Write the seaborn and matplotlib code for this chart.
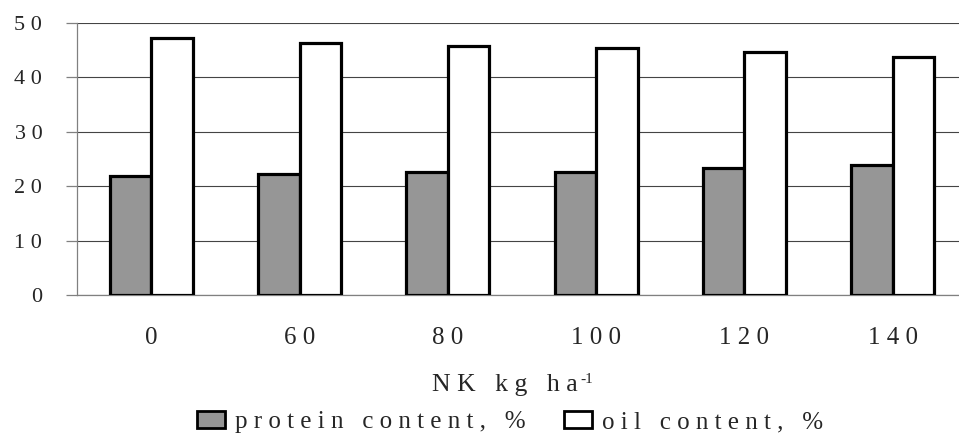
import pandas as pd
import seaborn as sns
import matplotlib.pyplot as plt
from matplotlib.patches import Patch

# --- data ---
doses = ['0', '60', '80', '100', '120', '140']
protein = [21.8, 22.3, 22.5, 22.6, 23.4, 23.9]
oil = [47.2, 46.3, 45.8, 45.3, 44.7, 43.7]
series_names = ['protein content, %', 'oil content, %']
y_ticks = [0, 10, 20, 30, 40, 50]


def spaced(s):
    # old Excel look: letters set apart by a space
    return ' '.join(s)


df = pd.DataFrame({
    'dose': doses * 2,
    'series': [series_names[0]] * len(doses) + [series_names[1]] * len(doses),
    'value': protein + oil,
})

sns.set_style('white')
plt.rcParams['font.family'] = ['Liberation Serif', 'DejaVu Serif']

fig = plt.figure(figsize=(9.59, 4.34), dpi=100)
ax = fig.add_axes([77 / 959, 139 / 434, 890 / 959, 272.3 / 434])

colors = {series_names[0]: '#969696', series_names[1]: '#ffffff'}
sns.barplot(data=df, x='dose', y='value', hue='series', order=doses,
            hue_order=series_names, palette=colors, width=0.56,
            edgecolor='black', linewidth=2.3, saturation=1,
            legend=False, ax=ax, zorder=3)

ax.set_xlim(-0.5, 5.5)
ax.set_ylim(0, 50)
ax.set_yticks(y_ticks)
ax.set_yticklabels([spaced(str(t)) for t in y_ticks], fontsize=16)
ax.set_xticks(range(len(doses)))
ax.set_xticklabels([spaced(d) for d in doses], fontsize=18)

ax.grid(axis='y', color='#444444', linewidth=0.8, zorder=0)
ax.grid(axis='x', visible=False)
for side in ['top', 'right']:
    ax.spines[side].set_visible(False)
for side in ['left', 'bottom']:
    ax.spines[side].set_color('#808080')
    ax.spines[side].set_linewidth(0.9)
ax.tick_params(axis='y', left=True, length=8, width=0.9, color='#808080', pad=17)
ax.tick_params(axis='x', length=0, pad=23)

# x label, with the -1 exponent as a small raised text after it
ax.set_ylabel('')
ax.set_xlabel(spaced('NK') + '   ' + spaced('kg') + '   ' + spaced('ha'), fontsize=18.5)
ax.xaxis.set_label_coords((505 - 77) / 890, -(385 - 295) / 272.3)
ax.xaxis.label.set_va('center')
ax.annotate('-1', xy=(1, 1), xycoords=ax.xaxis.label, xytext=(2, 1),
            textcoords='offset points', fontsize=11, ha='left', va='top')

handles = [Patch(facecolor=colors[n], edgecolor='black', linewidth=2.0) for n in series_names]
fig.legend(handles, [spaced(n) for n in series_names], loc='center',
           bbox_to_anchor=(510 / 959, 12 / 434), ncol=2, frameon=False,
           fontsize=18, handlelength=1.15, handleheight=0.65,
           handletextpad=0.4, columnspacing=1.5, borderpad=0)

fig.savefig('out.png', dpi=100)
